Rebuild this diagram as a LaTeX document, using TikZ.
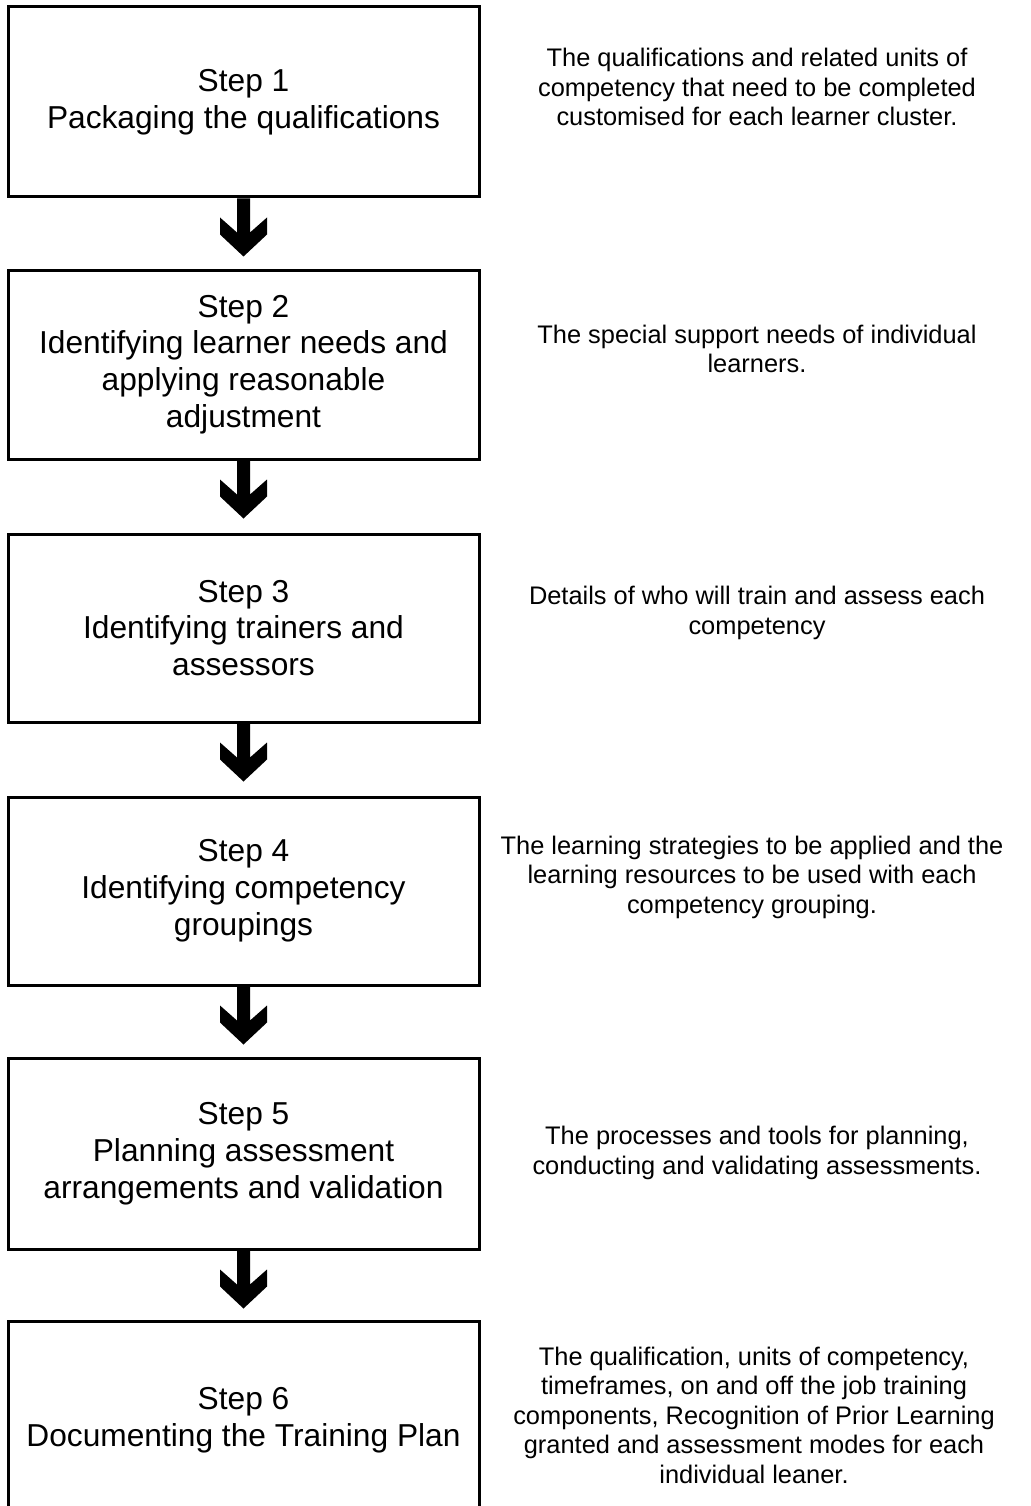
\documentclass[tikz,border=0pt]{standalone}
\usepackage{fontspec}
\setmainfont{Liberation Sans}
\begin{document}
\begin{tikzpicture}[x=1pt,y=-1pt,
  stepbox/.style={draw=black, line width=3pt, minimum width=471pt, align=center, inner sep=0pt,
    font=\fontsize{31.7}{36.8}\selectfont},
  note/.style={align=center, inner sep=0pt, font=\fontsize{25.4}{29.5}\selectfont},
  bigarrow/.style={fill=black}]
\useasboundingbox (0,0) rectangle (1030,1506);
\clip (0,0) rectangle (1030,1506);
\fill[white] (0,0) rectangle (1030,1506);

\node[stepbox, minimum height=190pt] (s1) at (243.5,102) {Step 1\\Packaging the qualifications};
\node[stepbox, minimum height=189pt] (s2) at (243.5,364.5) {Step 2\\Identifying learner needs and\\applying reasonable\\adjustment};
\node[stepbox, minimum height=188pt] (s3) at (243.5,628) {Step 3\\Identifying trainers and\\assessors};
\node[stepbox, minimum height=188pt] (s4) at (243.5,891) {Step 4\\Identifying competency\\groupings};
\node[stepbox, minimum height=191pt] (s5) at (243.5,1153.5) {Step 5\\Planning assessment\\arrangements and validation};
\node[stepbox, minimum height=198pt] (s6) at (243.5,1420) {Step 6\\Documenting the Training Plan};

\node[note] (n1) at (757,87) {The qualifications and related units of\\competency that need to be completed\\customised for each learner cluster.};
\node[note] (n2) at (757,349) {The special support needs of individual\\learners.};
\node[note] (n3) at (757,613) {Details of who will train and assess each\\competency};
\node[note] (n4) at (752,877) {The learning strategies to be applied and the\\learning resources to be used with each\\competency grouping.};
\node[note] (n5) at (757,1153) {The processes and tools for planning,\\conducting and validating assessments.};
\node[note] (n6) at (754,1415) {The qualification, units of competency,\\timeframes, on and off the job training\\components, Recognition of Prior Learning\\granted and assessment modes for each\\individual leaner.};

\foreach \a in {1,...,5}{
  \fill[bigarrow] (s\a.south) ++(-6.5,0) -- ++(0,34) -- ++(-17,-15) -- ++(0,17)
    -- ++(23.5,22) -- ++(23.5,-22) -- ++(0,-17) -- ++(-17,15) -- ++(0,-34) -- cycle;
}
\end{tikzpicture}
\end{document}
